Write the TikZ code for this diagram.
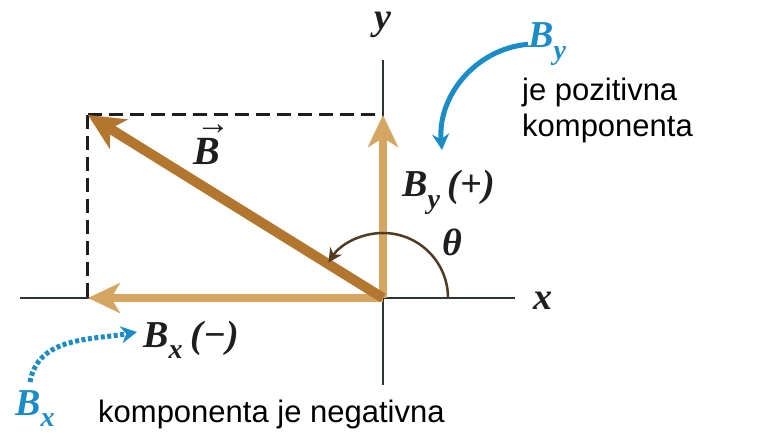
\documentclass[tikz,border=0pt]{standalone}
\usepackage{fontspec}
\setmainfont{Liberation Sans}
\newfontfamily\labfont{Liberation Serif}
\usetikzlibrary{arrows.meta}
\definecolor{ink}{RGB}{30,30,30}
\definecolor{axisc}{RGB}{45,55,50}
\definecolor{vecc}{RGB}{178,118,46}
\definecolor{compc}{RGB}{212,166,98}
\definecolor{arcc}{RGB}{80,60,35}
\definecolor{cue}{RGB}{26,140,200}
\newcommand{\sub}[1]{\raisebox{-0.3em}{\fontsize{28}{28}\selectfont #1}}
\newcommand{\overarrow}[1]{\makebox[0pt][l]{\hspace{3pt}\raisebox{30pt}{\fontsize{34}{34}\selectfont\upshape →}}#1}
\tikzset{
  every picture/.style={color=ink, x=1pt, y=1pt},
  axis/.style={draw=axisc, line width=2pt},
  guide/.style={draw=ink, line width=3pt, dash pattern=on 14pt off 7pt},
  vecB/.style={draw=vecc, line width=10pt, -{Stealth[length=36pt,width=34pt,inset=10pt]}},
  comp/.style={draw=compc, line width=8pt, -{Stealth[length=32pt,width=30pt,inset=9pt]}},
  angarc/.style={draw=arcc, line width=2.5pt, -{Stealth[length=14pt,width=14pt]}},
  cuearrow/.style={draw=cue, line width=5pt, -{Stealth[length=16pt,width=17pt]}},
  cuedots/.style={cuearrow, dash pattern=on 4pt off 2.5pt},
  lbl/.style={font=\fontsize{38}{42}\labfont\bfseries\itshape, text=ink, inner sep=0pt},
  cuelbl/.style={lbl, text=cue},
  note/.style={font=\fontsize{31}{36}\selectfont, text=black, inner sep=0pt, align=left},
}
\begin{document}
\begin{tikzpicture}
  \useasboundingbox[fill=white] (-383,-143) rectangle (379,298);
  \coordinate (O) at (0,0);
  \coordinate (Btip) at (-295,183);
  \coordinate (Bxtip) at (-295,0);
  \coordinate (Bytip) at (0,183);
  % axes
  \draw[axis] (-363,0) -- (132,0);
  \draw[axis] (0,-87) -- (0,238);
  \node[lbl, anchor=base west] (xlab) at (150,-12) {x};
  \node[lbl, anchor=base] (ylab) at (0,268) {y};
  % dashed box
  \draw[guide] (Btip) -- (Bxtip);
  \draw[guide] (Btip) -- (Bytip);
  % components and vector
  \draw[comp] (O) -- (Bxtip);
  \draw[comp] (O) -- (Bytip);
  \draw[vecB] (O) -- (Btip);
  \draw[angarc] (65,0) arc[start angle=0, end angle=147, radius=65];
  \node[lbl, anchor=base] (thlab) at (69,42) {θ};
  \node[lbl, anchor=base west, font=\fontsize{40}{44}\labfont\bfseries\itshape] (Blab) at (-190,133) {\overarrow{B}};
  \node[lbl, anchor=base west] (bylab) at (19,101) {B\sub{y}\hspace{8pt}(+)};
  \node[lbl, anchor=base west] (bxlab) at (-240,-49) {B\sub{x}\hspace{8pt}(−)};
  % blue cues
  \node[cuelbl, anchor=base west] (bycue) at (145,250) {B\sub{y}};
  \node[cuelbl, anchor=base west] (bxcue) at (-368,-117) {B\sub{x}};
  \coordinate (bycuetip) at (59,148);
  \coordinate (bxcuetip) at (-246,-34);
  \draw[cuearrow] (bycue.west) to[out=185, in=95] (bycuetip);
  \draw[cuedots] (-353,-84) to[out=80, in=190] (bxcuetip);
  % notes
  \node[note, anchor=north west] (posnote) at (139,220) {je pozitivna\\komponenta};
  \node[note, anchor=base west] (negnote) at (-285,-124) {komponenta je negativna};
\end{tikzpicture}
\end{document}
